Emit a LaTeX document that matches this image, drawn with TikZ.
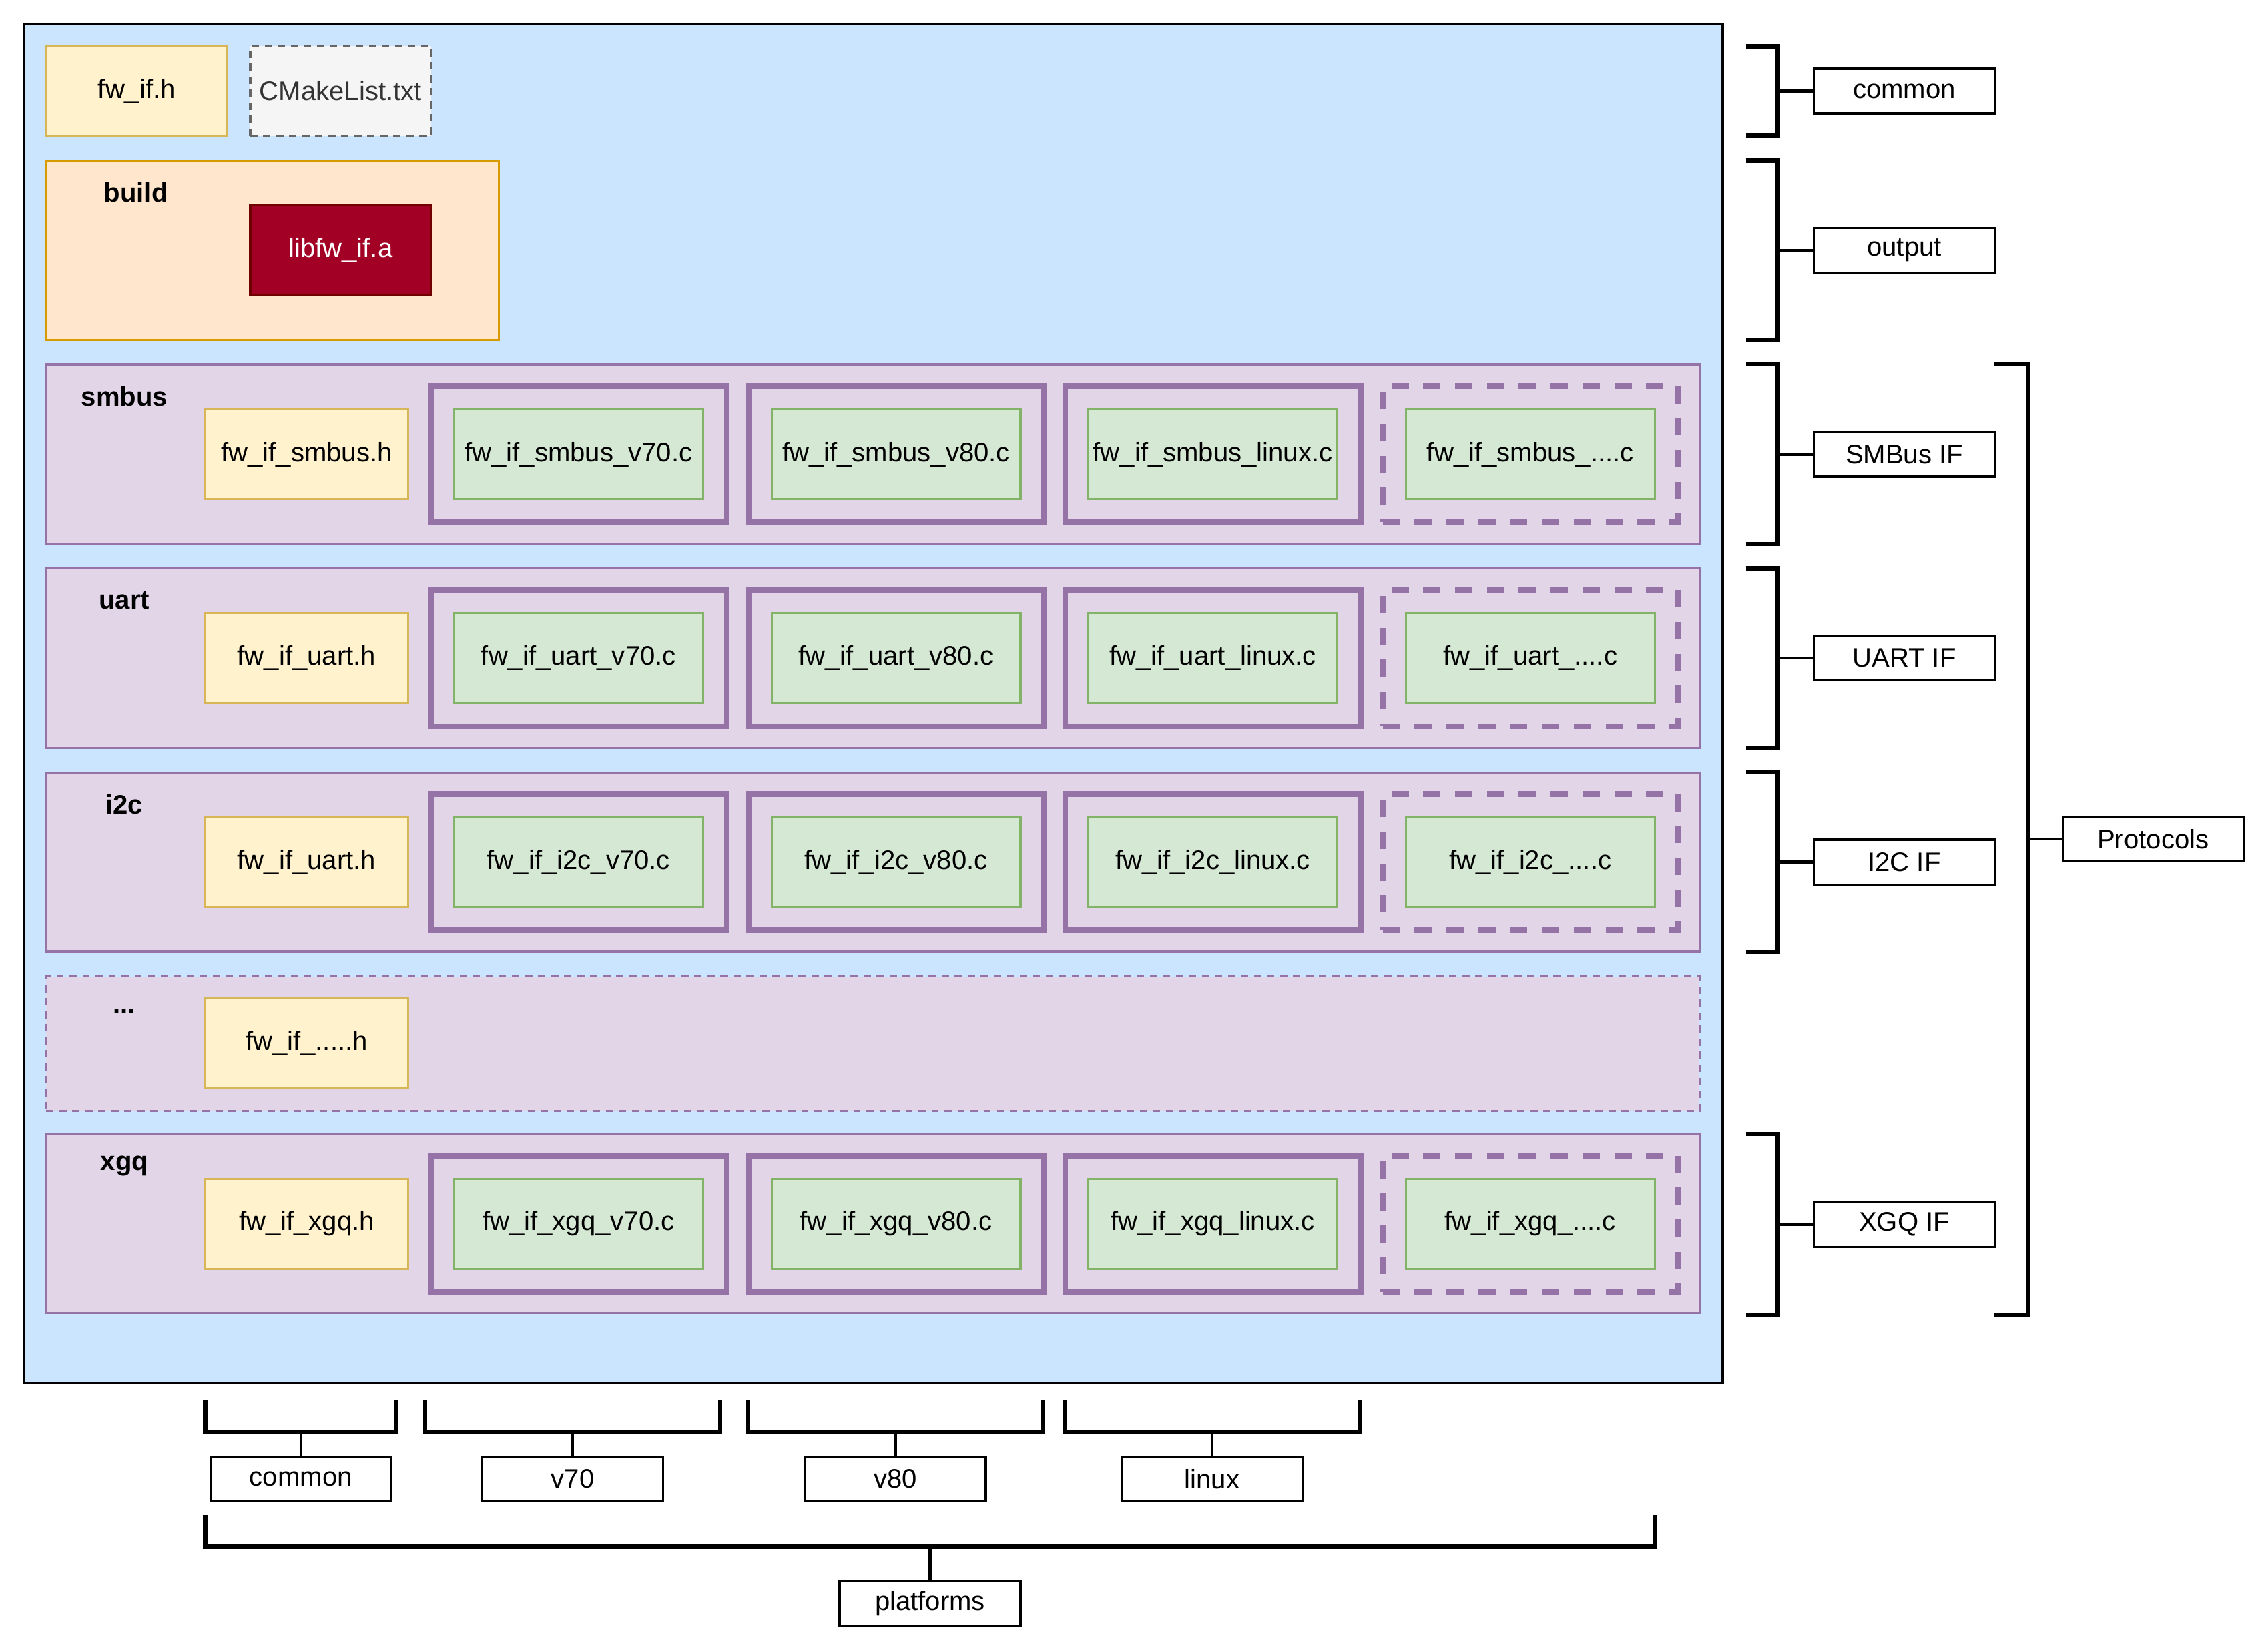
\documentclass[tikz,border=0pt]{standalone}
\usepackage{fontspec}
\setmainfont{Liberation Sans}
\definecolor{bluebg}{HTML}{CCE5FF}
\definecolor{hfill}{HTML}{FFF2CC}
\definecolor{hline}{HTML}{D6B656}
\definecolor{cfill}{HTML}{D5E8D4}
\definecolor{cline}{HTML}{82B366}
\definecolor{pfill}{HTML}{E1D5E7}
\definecolor{pline}{HTML}{9673A6}
\definecolor{bfill}{HTML}{FFE6CC}
\definecolor{bline}{HTML}{D79B00}
\definecolor{libfill}{HTML}{A20025}
\definecolor{libline}{HTML}{6F0000}
\begin{document}
\begin{tikzpicture}[x=1pt,y=-1pt]
  \tikzset{
    every node/.style={rectangle,inner sep=0pt,outer sep=0pt,font=\fontsize{18.5}{22}\selectfont},
    hfile/.style={draw=hline,fill=hfill,line width=1.5pt,minimum width=140pt,minimum height=62pt},
    cfile/.style={draw=cline,fill=cfill,line width=1.5pt,minimum width=172pt,minimum height=62pt},
    pgroup/.style={draw=pline,line width=4pt,minimum width=204pt,minimum height=94pt},
    rowbox/.style={draw=pline,fill=pfill,line width=1.5pt,minimum width=1143pt,minimum height=124pt},
    rowlabel/.style={font=\fontsize{18.5}{22}\selectfont\bfseries},
    tag/.style={draw,fill=white,line width=1.5pt,minimum width=125pt,minimum height=31pt},
    brk/.style={line width=3pt},
    stub/.style={line width=2pt}
  }
  \useasboundingbox (0,0) rectangle (1568,1142.06);

  \node[draw,fill=bluebg,line width=1.5pt,minimum width=1174pt,minimum height=939pt] (root) at (604,486.5) {};
  \node[hfile,minimum width=125pt] (fwif) at (94.5,63) {fw\_if.h};
  \node[draw=black!60,fill=black!4,dashed,dash pattern=on 5pt off 4pt,line width=1.5pt,
        minimum width=125pt,minimum height=62pt,text=black!80] (cmake) at (235.5,63) {CMakeList.txt};
  \node[draw=bline,fill=bfill,line width=1.5pt,minimum width=313pt,minimum height=124pt] (build) at (188.5,173) {};
  \node[rowlabel] at (94,133) {build};
  \node[draw=libline,fill=libfill,line width=1.5pt,minimum width=125pt,minimum height=62pt,text=white] (lib) at (235.5,173) {libfw\_if.a};

  \foreach \n/\y/\h in {smbus/252/smbus, uart/393/uart, i2c/534/uart, xgq/784/xgq} {
    \node[rowbox] (\n) at (603.5,\y+62) {};
    \node[rowlabel] at (86,\y+22) {\n};
    \node[hfile] (\n-h) at (212,\y+62) {fw\_if\_\h.h};
    \foreach \v/\x in {v70/400, v80/619.5, linux/838.5} {
      \node[pgroup] at (\x,\y+62) {};
      \node[cfile] (\n-\v) at (\x,\y+62) {fw\_if\_\n\_\v.c};
    }
    \node[pgroup,dash pattern=on 12pt off 10pt] at (1058,\y+62) {};
    \node[cfile] (\n-more) at (1058,\y+62) {fw\_if\_\n\_....c};
  }
  \node[rowbox,minimum height=93pt,dash pattern=on 5pt off 4pt] (more) at (603.5,721.5) {};
  \node[rowlabel] at (86,699) {...};
  \node[hfile] (more-h) at (212,721) {fw\_if\_.....h};

  \foreach \k/\a/\b/\lbl in {common/32/94/common, output/111/235/output, smbus/252/376/SMBus IF,
                             uart/393/517/UART IF, i2c/534/658/I2C IF, xgq/784/909/XGQ IF} {
    \node[tag] (r-\k) at (1316.5,{(\a+\b)/2}) {\lbl};
    \coordinate (rb-\k) at (1229,{(\a+\b)/2});
    \draw[brk] (1207,\a) -- (1229,\a) -- (1229,\b) -- (1207,\b);
    \draw[stub] (rb-\k) -- (r-\k);
  }
  \node[tag] (protocols) at (1488.5,580) {Protocols};
  \coordinate (pb) at (1402,580);
  \draw[brk] (1379,252) -- (1402,252) -- (1402,909) -- (1379,909);
  \draw[stub] (pb) -- (protocols);

  \foreach \k/\a/\b in {common/142/274, v70/294/498, v80/517/721, linux/736/940} {
    \node[tag] (b-\k) at ({(\a+\b)/2},1022.5) {\k};
    \coordinate (bb-\k) at ({(\a+\b)/2},990);
    \draw[brk] (\a,968) -- (\a,990) -- (\b,990) -- (\b,968);
    \draw[stub] (bb-\k) -- (b-\k);
  }
  \node[tag] (platforms) at (643,1108.5) {platforms};
  \coordinate (plb) at (643,1069);
  \draw[brk] (142,1047) -- (142,1069) -- (1144,1069) -- (1144,1047);
  \draw[stub] (plb) -- (platforms);
\end{tikzpicture}
\end{document}
